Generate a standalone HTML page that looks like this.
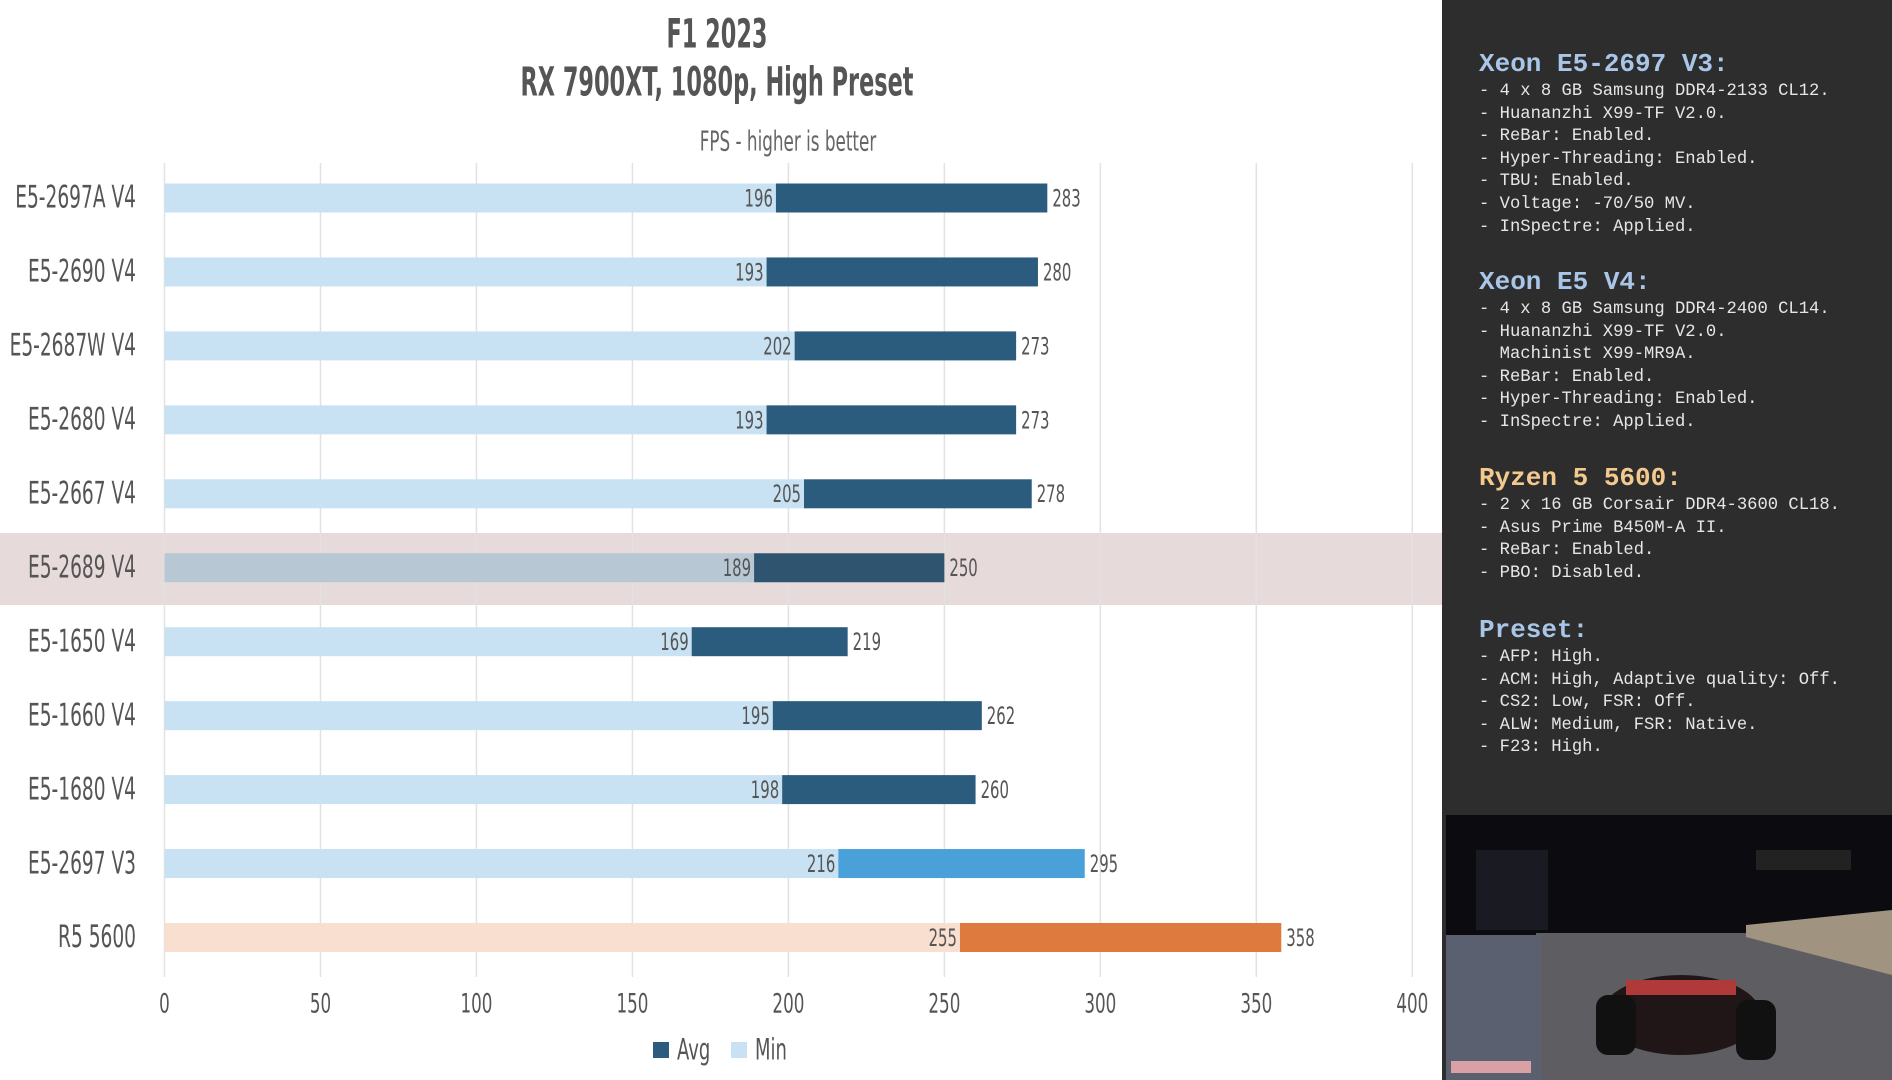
<!DOCTYPE html>
<html><head><meta charset="utf-8"><style>
body{margin:0;width:1892px;height:1080px;overflow:hidden;background:#fff;font-family:"Liberation Sans",sans-serif}
#side{position:absolute;left:1442px;top:0;width:450px;height:1080px;background:#2d2d2d}
.h{position:absolute;left:37px;font:bold 26px "Liberation Mono",monospace;color:#a9c6e8}
.it{position:absolute;left:37px;font:17.2px "Liberation Mono",monospace;color:#e6e6e6;white-space:pre;line-height:22.6px}
</style></head><body>
<svg id="chart" width="1442" height="1080" style="position:absolute;left:0;top:0"></svg>
<div id="side">
<div class="h" style="top:49px">Xeon E5-2697 V3:</div>
<div class="it" style="top:81px">- 4 x 8 GB Samsung DDR4-2133 CL12.
- Huananzhi X99-TF V2.0.
- ReBar: Enabled.
- Hyper-Threading: Enabled.
- TBU: Enabled.
- Voltage: -70/50 MV.
- InSpectre: Applied.</div>
<div class="h" style="top:267px">Xeon E5 V4:</div>
<div class="it" style="top:299px">- 4 x 8 GB Samsung DDR4-2400 CL14.
- Huananzhi X99-TF V2.0.
  Machinist X99-MR9A.
- ReBar: Enabled.
- Hyper-Threading: Enabled.
- InSpectre: Applied.</div>
<div class="h" style="top:463px;color:#f3c98e">Ryzen 5 5600:</div>
<div class="it" style="top:495px">- 2 x 16 GB Corsair DDR4-3600 CL18.
- Asus Prime B450M-A II.
- ReBar: Enabled.
- PBO: Disabled.</div>
<div class="h" style="top:615px">Preset:</div>
<div class="it" style="top:647px">- AFP: High.
- ACM: High, Adaptive quality: Off.
- CS2: Low, FSR: Off.
- ALW: Medium, FSR: Native.
- F23: High.</div>
<svg width="446" height="265" style="position:absolute;left:4px;top:815px">
<rect width="446" height="265" fill="#0b0b10"/>
<polygon points="0,125 446,125 446,265 0,265" fill="#77777a"/>
<polygon points="90,118 300,118 446,150 446,265 90,265" fill="#5e5e62"/>
<polygon points="300,110 446,95 446,160 300,122" fill="#a09380"/>
<polygon points="0,120 95,120 95,265 0,265" fill="#5a6070"/>
<rect x="30" y="35" width="72" height="80" fill="#1a1a22"/>
<rect x="5" y="246" width="80" height="12" fill="#d9a0a6"/>
<ellipse cx="235" cy="200" rx="80" ry="40" fill="#201618"/>
<rect x="180" y="165" width="110" height="15" fill="#b03a3a"/>
<rect x="150" y="180" width="40" height="60" rx="12" fill="#111"/>
<rect x="290" y="185" width="40" height="60" rx="12" fill="#111"/>
<rect x="310" y="35" width="95" height="20" fill="#222"/>
</svg>
</div>
<script>
const categories=["E5-2697A V4","E5-2690 V4","E5-2687W V4","E5-2680 V4","E5-2667 V4","E5-2689 V4","E5-1650 V4","E5-1660 V4","E5-1680 V4","E5-2697 V3","R5 5600"];
const minValues=[196,193,202,193,205,189,169,195,198,216,255];
const avgValues=[283,280,273,273,278,250,219,262,260,295,358];
const ticks=[0,50,100,150,200,250,300,350,400];
const NS="http://www.w3.org/2000/svg";
const svg=document.getElementById('chart');
const X=v=>164.5+v*3.1195;
const Y=i=>198+i*73.95;
function el(t,a,p){const e=document.createElementNS(NS,t);for(const k in a)e.setAttribute(k,a[k]);(p||svg).appendChild(e);return e;}
function txt(s,x,y,size,anchor,fill,sx){const e=el('text',{transform:`translate(${x},${y}) scale(${sx||0.62},1)`,'font-size':size,'text-anchor':anchor,fill:fill,'font-family':'"DejaVu Sans","Liberation Sans",sans-serif','dominant-baseline':'central'});e.textContent=s;return e;}
let t;
t=txt('F1 2023',717,34,40,'middle','#555',0.56);
t.setAttribute('font-weight','bold');


t=txt('RX 7900XT, 1080p, High Preset',717,82,40,'middle','#555',0.56);
t.setAttribute('font-weight','bold');


t=txt('FPS - higher is better',788,142,28,'middle','#666',0.6);


let hl=el('rect',{x:0,y:533,width:1442,height:72,fill:'#e6dadb'});


ticks.forEach(v=>{
  const g=el('line',{x1:X(v),x2:X(v),y1:163,y2:977,stroke:'#e2e2e2','stroke-width':1.5});
  
  
  const l=txt(String(v),X(v),1004,27,'middle','#555');
  
  
});
categories.forEach((c,i)=>{
  const y=Y(i),h=29;
  const isV3=c==='E5-2697 V3',isR5=c==='R5 5600',isHL=c==='E5-2689 V4';
  const minC=isR5?'#f9dfcf':(isHL?'#b7c7d4':'#c9e2f3');
  const avgC=isR5?'#de7a3e':(isV3?'#4aa0d9':(isHL?'#2f5470':'#2c5c7d'));
  const lab=txt(c,136,y,31,'end','#555',0.6);
  
  
  const m=el('rect',{x:X(0),y:y-h/2,width:X(minValues[i])-X(0),height:h,fill:minC});
  
  
  const a=el('rect',{x:X(minValues[i]),y:y-h/2,width:X(avgValues[i])-X(minValues[i]),height:h,fill:avgC});
  
  
  const mv=txt(String(minValues[i]),X(minValues[i])-3,y,24,'end','#555');
  
  
  const av=txt(String(avgValues[i]),X(avgValues[i])+5,y,24,'start','#555');
  
  
});
let lg=el('rect',{x:653,y:1042,width:16,height:16,fill:'#2c5c7d'});


t=txt('Avg',677,1050,29,'start','#555');


lg=el('rect',{x:731,y:1042,width:16,height:16,fill:'#c9e2f3'});


t=txt('Min',755,1050,29,'start','#555');


</script>
</body></html>
